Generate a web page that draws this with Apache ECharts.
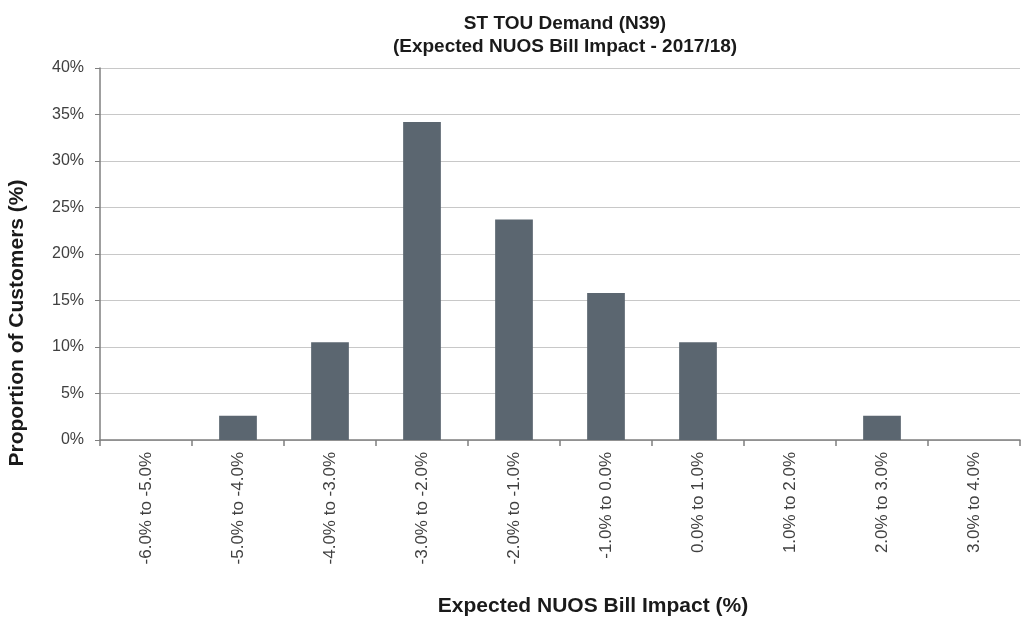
<!DOCTYPE html>
<html>
<head>
<meta charset="utf-8">
<script src="https://cdn.jsdelivr.net/npm/echarts@6/dist/echarts.min.js"></script>
<style>
  html, body { margin: 0; padding: 0; background: #fff; }
  #chart { width: 1021px; height: 619px; }
</style>
</head>
<body>
<div id="chart"></div>
<script>
// bill impact buckets
const categories = [
  "-6.0% to -5.0%", "-5.0% to -4.0%", "-4.0% to -3.0%", "-3.0% to -2.0%",
  "-2.0% to -1.0%", "-1.0% to 0.0%", "0.0% to 1.0%", "1.0% to 2.0%",
  "2.0% to 3.0%", "3.0% to 4.0%"
];
// proportion of customers (%)
const proportions = [0, 2.6, 10.5, 34.2, 23.7, 15.8, 10.5, 0, 2.6, 0];

const font = "Arial, 'Liberation Sans', sans-serif";
const chart = echarts.init(document.getElementById("chart"));
chart.setOption({
  animation: false,
  backgroundColor: "#ffffff",
  textStyle: { fontFamily: font },
  title: {
    text: "ST TOU Demand (N39)\n(Expected NUOS Bill Impact - 2017/18)",
    left: 560,
    top: 7,
    textAlign: "center",
    textStyle: { fontSize: 19, fontWeight: "bold", color: "#1a1a1a", lineHeight: 23 }
  },
  grid: { left: 100, right: 1, top: 68, bottom: 179, containLabel: false, outerBoundsMode: "none" },
  xAxis: {
    type: "category",
    data: categories,
    axisLine: { lineStyle: { color: "#7f7f7f", width: 1.5 } },
    axisTick: { show: true, length: 6, lineStyle: { color: "#7f7f7f", width: 1.5 } },
    axisLabel: { rotate: 90, margin: 12, fontSize: 17, color: "#404040" }
  },
  yAxis: {
    type: "value",
    min: 0,
    max: 40,
    interval: 5,
    axisLine: { show: true, lineStyle: { color: "#7f7f7f", width: 1.5 } },
    axisTick: { show: true, length: 5, lineStyle: { color: "#7f7f7f" } },
    axisLabel: { formatter: "{value}%", margin: 16, fontSize: 16, color: "#404040" },
    splitLine: { lineStyle: { color: "#c8c8c8", width: 1 } }
  },
  graphic: [
    {
      type: "text",
      x: 17,
      y: 323,
      rotation: Math.PI / 2,
      style: {
        text: "Proportion of Customers (%)",
        font: "bold 21px " + font,
        fill: "#1a1a1a",
        textAlign: "center",
        textVerticalAlign: "middle"
      }
    },
    {
      type: "text",
      x: 593,
      y: 606,
      style: {
        text: "Expected NUOS Bill Impact (%)",
        font: "bold 21px " + font,
        fill: "#1a1a1a",
        textAlign: "center",
        textVerticalAlign: "middle"
      }
    }
  ],
  series: [{
    type: "bar",
    data: proportions,
    barWidth: "41%",
    itemStyle: { color: "#5b6670" }
  }]
});
</script>
</body>
</html>
